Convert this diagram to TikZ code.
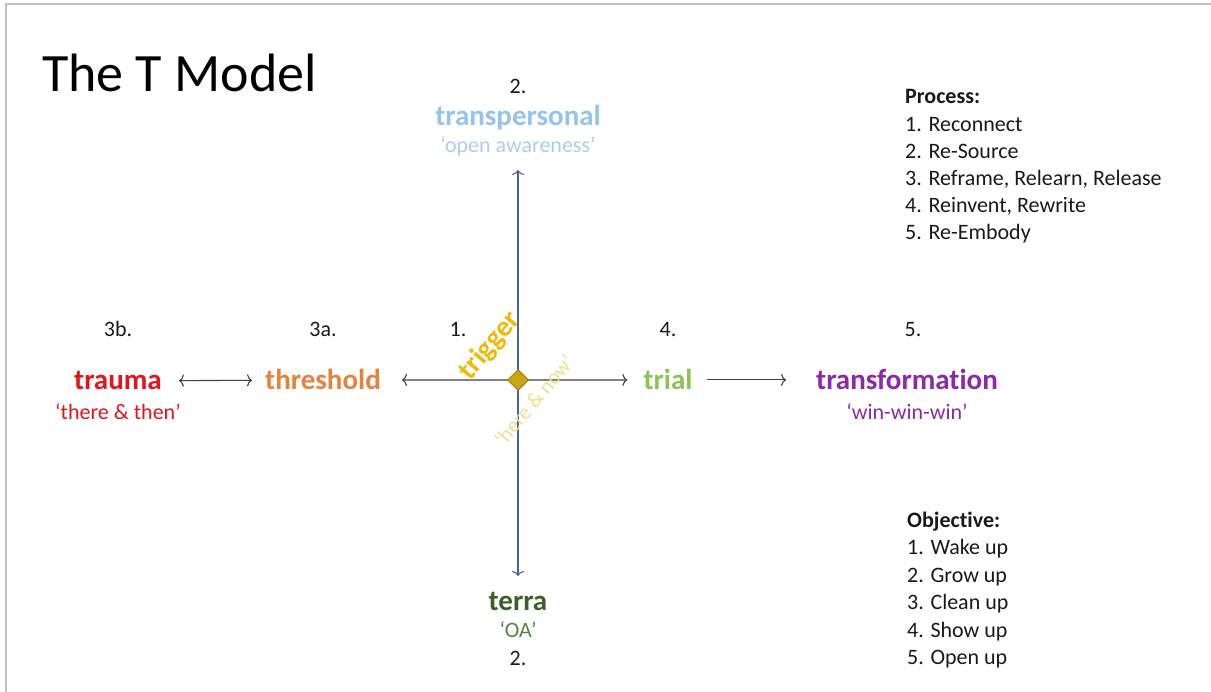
\documentclass[tikz,border=0pt]{standalone}
\usepackage{fontspec}
\setmainfont{Carlito}[Ligatures=NoCommon]
\usepackage{tikz}
\usetikzlibrary{shapes.geometric, arrows.meta}

\definecolor{frame}{RGB}{192,192,192}
\definecolor{txt}{RGB}{25,25,25}
\definecolor{hline}{RGB}{64,64,64}
\definecolor{vline}{RGB}{70,100,150}
\definecolor{cTrauma}{RGB}{226,20,28}
\definecolor{cThresh}{RGB}{230,130,60}
\definecolor{cTrig}{RGB}{240,185,10}
\definecolor{cNow}{RGB}{240,222,140}
\definecolor{cTrial}{RGB}{140,195,80}
\definecolor{cTrans}{RGB}{140,40,170}
\definecolor{cTp}{RGB}{150,195,235}
\definecolor{cAware}{RGB}{172,205,235}
\definecolor{cTerra}{RGB}{60,95,40}
\definecolor{cOA}{RGB}{90,130,65}
\definecolor{cDia}{RGB}{200,165,20}

\tikzset{
	lbl/.style={font=\fontsize{29}{34}\selectfont\bfseries, inner sep=0, anchor=base},
	sub/.style={font=\fontsize{22}{27}\selectfont, inner sep=0, anchor=base},
	num/.style={sub, text=txt},
	item/.style={font=\fontsize{22}{27}\selectfont, inner sep=0, anchor=base west, text=txt},
	conn/.style={line width=1.1pt, >={To[length=5pt, width=12pt]}},
}

\begin{document}
\begin{tikzpicture}[x=1pt, y=-1pt]
	  \useasboundingbox (0, 0) rectangle (1211, 692);
	  \draw[frame, line width=2pt](6, 692) -- (6, 4) -- (1211, 4);
	  \node[font=\fontsize{54}{60}\selectfont, inner sep=0, anchor=base west, text=black]
	  (title) at (42, 92) {The T Model};
	  % the cross
	  \coordinate (c) at (518, 380);
	  \coordinate (up) at (518, 170);
	  \coordinate (down) at (518, 576);
	  \draw[->, conn, vline](c) -- (up);
	  \draw[->, conn, vline](c) -- (down);
	  \node[lbl, text=cThresh] (threshold) at (323, 390) {threshold};
	  \node[lbl, text=cTrial] (trial) at (668, 390) {trial};
	  \node[lbl, text=cTrauma] (trauma) at (118, 390) {trauma};
	  \node[lbl, text=cTrans] (transform) at (907, 390) {transformation};
	  \draw[->, conn, hline, shorten >=21pt](c) -- (threshold);
	  \draw[->, conn, hline, shorten >=16pt](c) -- (trial);
	  \draw[<->, conn, hline, shorten <=17pt, shorten >=13pt](trauma) -- (threshold);
	  \draw[->, conn, hline, shorten <=14pt, shorten >=30pt](trial) -- (transform);
	  \node[diamond, draw=cDia!80!black, fill=cDia, line width=1pt, minimum size=21pt, inner sep=0]
	  (dia) at (c) {};
	  \node[font=\fontsize{29}{34}\selectfont\bfseries, text=cTrig, rotate=50, inner sep=0]
	  (trigger) at (490, 346) {trigger};
	  \node[font=\fontsize{21}{25}\selectfont, text=cNow, rotate=50, inner sep=0]
	  (now) at (534, 400) {‘here \& now’};
	  % numbers
	  \node[num] (n3b) at (118, 337) {3b.};
	  \node[num] (n3a) at (323, 337) {3a.};
	  \node[num] (n1) at (458, 337) {1.};
	  \node[num] (n4) at (668, 337) {4.};
	  \node[num] (n5) at (913, 337) {5.};
	  \node[num] (n2t) at (518, 94) {2.};
	  \node[num] (n2b) at (518, 665) {2.};
	  % sub labels
	  \node[sub, text=cTrauma] (then) at (118, 420) {‘there \& then’};
	  \node[sub, text=cTrans] (win) at (907, 420) {‘win-win-win’};
	  \node[lbl, text=cTp] (transp) at (518, 126) {transpersonal};
	  \node[sub, text=cAware] (aware) at (518, 153) {‘open awareness’};
	  \node[lbl, text=cTerra] (terra) at (518, 610) {terra};
	  \node[sub, text=cOA] (oa) at (518, 637) {‘OA’};
	  % lists
	  \node[item, font=\fontsize{22}{27}\selectfont\bfseries] (proc) at (905, 104) {Process:};
	  \foreach \t [count=\i] in {Reconnect, Re-Source, {Reframe, Relearn, Release},
	  {Reinvent, Rewrite}, Re-Embody}
	  {
		\node[item] (p\i) at (905, 104+27.2*\i) {\i. \t};
	  }
	  \node[item, font=\fontsize{22}{27}\selectfont\bfseries] (obj) at (907, 527) {Objective:};
	  \foreach \t [count=\i] in {Wake up, Grow up, Clean up, Show up, Open up}
	  {
		\node[item] (o\i) at (907, 527+27.5*\i) {\i. \t};
	  }
	\end{tikzpicture}
\end{document}
